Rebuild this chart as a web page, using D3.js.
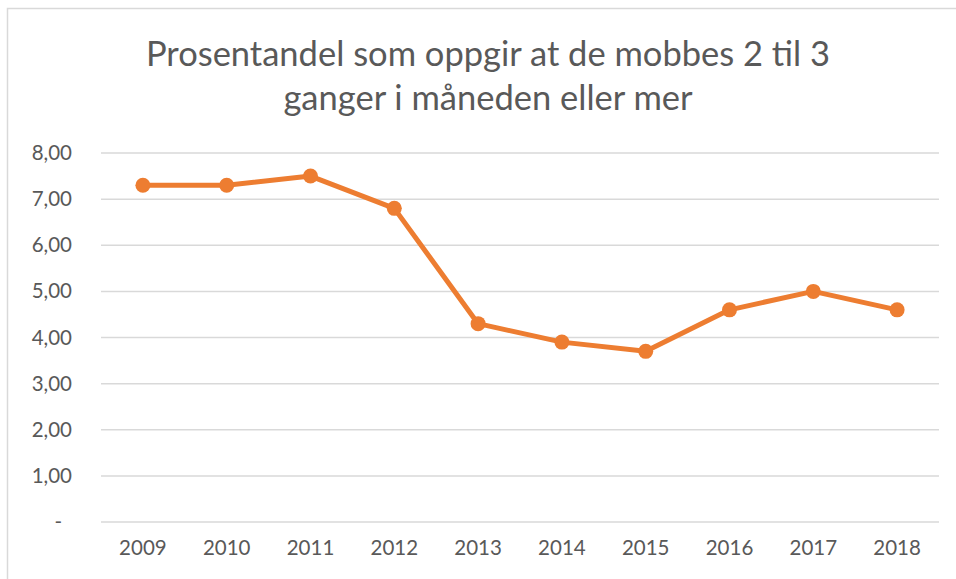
<!DOCTYPE html>
<html>
<head>
<meta charset="utf-8">
<script src="https://cdn.jsdelivr.net/npm/d3@7"></script>
<style>
  body { margin: 0; background: #fff; }
  svg { display: block; font-family: Lato, "Open Sans", sans-serif; }
</style>
</head>
<body>
<svg width="956" height="579"></svg>
<script>
// Data
const years = ["2009", "2010", "2011", "2012", "2013", "2014", "2015", "2016", "2017", "2018"];
const values = [7.3, 7.3, 7.5, 6.8, 4.3, 3.9, 3.7, 4.6, 5.0, 4.6];
const yTicks = [0, 1, 2, 3, 4, 5, 6, 7, 8];
const titleLines = ["Prosentandel som oppgir at de mobbes 2 til 3", "ganger i måneden eller mer"];

const svg = d3.select("svg");
const textColor = "#595959";
const gridColor = "#d9d9d9";
const lineColor = "#ED7D31";

// Chart frame
svg.append("rect")
    .attr("x", 7.5)
    .attr("y", 8.5)
    .attr("width", 960)
    .attr("height", 600)
    .attr("fill", "none")
    .attr("stroke", gridColor)
    .attr("stroke-width", 1.5);

// Title
svg.append("text")
    .attr("x", 488)
    .attr("y", 66)
    .attr("text-anchor", "middle")
    .style("font-size", "34.5px")
    .style("fill", textColor)
  .selectAll("tspan")
  .data(titleLines).enter()
  .append("tspan")
    .attr("x", 488)
    .attr("dy", (d, i) => i === 0 ? 0 : 44)
    .text(d => d);

// Scales
const x = d3.scaleBand()
    .domain(years)
    .range([101, 939]);

const y = d3.scaleLinear()
    .domain([0, 8])
    .range([522, 153]);

// Gridlines
svg.append("g")
  .selectAll("line")
  .data(yTicks).enter()
  .append("line")
    .attr("x1", 101)
    .attr("x2", 939)
    .attr("y1", d => y(d))
    .attr("y2", d => y(d))
    .attr("stroke", gridColor)
    .attr("stroke-width", 1.5);

// Y axis labels
const fmt = d => d === 0 ? "-" : d3.format(".2f")(d).replace(".", ",");
const yAxis = svg.append("g")
    .attr("transform", "translate(72,0)")
    .call(d3.axisLeft(y).tickValues(yTicks).tickSize(0).tickPadding(0).tickFormat(fmt));
yAxis.select(".domain").remove();
yAxis.selectAll("text")
    .style("font-size", "20.5px")
    .style("font-family", "Lato, 'Open Sans', sans-serif")
    .style("fill", textColor)
    .attr("dx", d => d === 0 ? -10 : 0);

// X axis labels
const xAxis = svg.append("g")
    .attr("transform", "translate(0,540)")
    .call(d3.axisBottom(x).tickSize(0).tickPadding(0));
xAxis.select(".domain").remove();
xAxis.selectAll("text")
    .style("font-size", "20.5px")
    .style("font-family", "Lato, 'Open Sans', sans-serif")
    .style("fill", textColor);

// Line
const cx = (d, i) => x(years[i]) + x.bandwidth() / 2;
const line = d3.line()
    .x((d, i) => cx(d, i))
    .y(d => y(d));

svg.append("path")
    .datum(values)
    .attr("fill", "none")
    .attr("stroke", lineColor)
    .attr("stroke-width", 5)
    .attr("stroke-linejoin", "round")
    .attr("d", line);

svg.append("g")
  .selectAll("circle")
  .data(values).enter()
  .append("circle")
    .attr("cx", (d, i) => cx(d, i))
    .attr("cy", d => y(d))
    .attr("r", 7.5)
    .attr("fill", lineColor);
</script>
</body>
</html>
